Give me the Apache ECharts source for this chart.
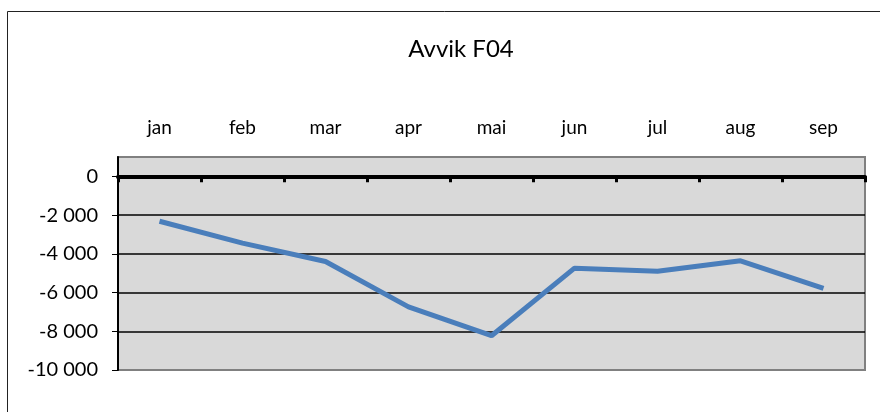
<!DOCTYPE html>
<html>
<head>
<meta charset="utf-8">
<script src="https://cdn.jsdelivr.net/npm/echarts@6/dist/echarts.min.js"></script>
<style>
  html, body { margin: 0; padding: 0; background: #fff; }
  #chart { width: 880px; height: 412px; }
</style>
</head>
<body>
<div id="chart"></div>
<script>
// data
const months = ['jan', 'feb', 'mar', 'apr', 'mai', 'jun', 'jul', 'aug', 'sep']
const avvik = [-2320, -3450, -4400, -6740, -8230, -4740, -4900, -4360, -5780]
const yTicks = [-10000, -8000, -6000, -4000, -2000, 0]

const chart = echarts.init(document.getElementById('chart'))

function fmt(v) {
  // thousands with a space, as in the original
  const s = String(Math.abs(v)).replace(/\B(?=(\d{3})+(?!\d))/g, ' ')
  return (v < 0 ? '-' : '') + s
}

chart.setOption({
  animation: false,
  textStyle: { fontFamily: 'Lato' },
  title: {
    text: 'Avvik F04',
    left: 456,
    top: 32,
    textAlign: 'center',
    textStyle: { fontFamily: 'Lato', fontSize: 24, fontWeight: 'normal', color: '#000' }
  },
  graphic: [
    {
      type: 'rect',
      shape: { x: 7.5, y: 11.5, width: 900, height: 500 },
      style: { fill: 'none', stroke: '#222', lineWidth: 1 },
      silent: true
    }
  ],
  grid: {
    left: 118,
    right: 15,
    top: 157,
    bottom: 42,
    show: true,
    backgroundColor: '#d9d9d9',
    borderColor: '#808080',
    borderWidth: 2
  },
  xAxis: [
    {
      // zero line with its tick marks
      type: 'category',
      data: months,
      position: 'bottom',
      axisLine: { onZero: true, lineStyle: { color: '#000', width: 4 } },
      axisTick: { show: true, length: 6, lineStyle: { color: '#000', width: 3 } },
      axisLabel: { show: false },
      splitLine: { show: false },
      z: 5
    },
    {
      // month labels above the plot
      type: 'category',
      data: months,
      position: 'top',
      axisLine: { show: false },
      axisTick: { show: false },
      axisLabel: { margin: 20, fontSize: 19, color: '#000' },
      splitLine: { show: false }
    }
  ],
  yAxis: {
    type: 'value',
    min: -10000,
    max: 1000,
    interval: 2000,
    axisLine: { show: true, lineStyle: { color: '#000', width: 2 } },
    axisTick: { show: true, length: 6, customValues: yTicks, lineStyle: { color: '#000', width: 1 } },
    axisLabel: { margin: 20, fontSize: 20, color: '#000', customValues: yTicks, formatter: fmt },
    splitLine: { show: true, showMinLine: false, showMaxLine: false, lineStyle: { color: '#000', width: 1.5 } }
  },
  series: [
    {
      name: 'Avvik F04',
      type: 'line',
      data: avvik,
      xAxisIndex: 0,
      showSymbol: false,
      lineStyle: { color: '#4a7ebb', width: 5 },
      z: 3
    }
  ]
})
</script>
</body>
</html>
